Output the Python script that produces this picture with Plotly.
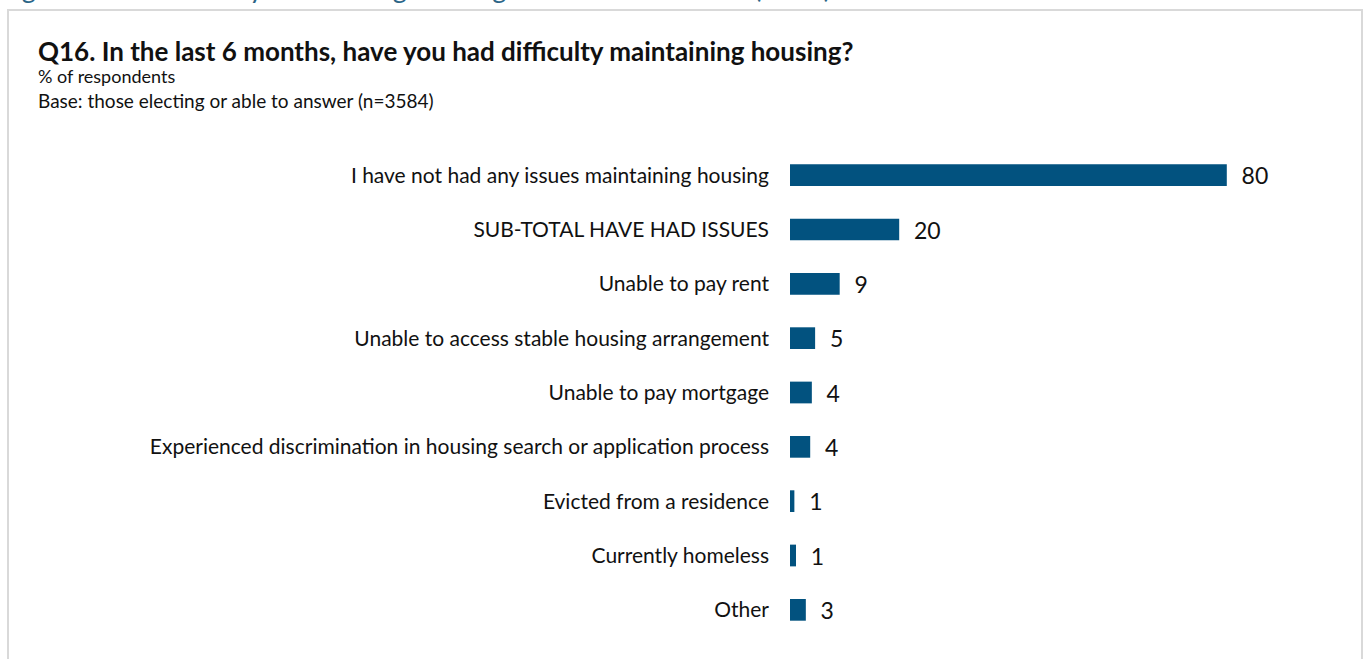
"""Horizontal bar chart: difficulty maintaining housing (Q16)."""

import plotly.graph_objects as go

# ---------------------------------------------------------------------------
# Data
# ---------------------------------------------------------------------------
categories = [
    "I have not had any issues maintaining housing",
    "SUB-TOTAL HAVE HAD ISSUES",
    "Unable to pay rent",
    "Unable to access stable housing arrangement",
    "Unable to pay mortgage",
    "Experienced discrimination in housing search or application process",
    "Evicted from a residence",
    "Currently homeless",
    "Other",
]
values = [80.0, 20.0, 9.1, 4.6, 4.0, 3.7, 0.8, 1.1, 2.9]
value_labels = ["80", "20", "9", "5", "4", "4", "1", "1", "3"]

BAR_COLOR = "#02527f"
CAPTION_COLOR = "#2b6587"
FONT = "Lato, 'Open Sans', sans-serif"

# page geometry (px); the body margin is removed below so the figure
# starts in the top-left corner
W, H = 1363, 659
L, R, T, B = 790, 63, 148, 22
PW, PH = W - L - R, H - T - B


def px_x(px):
    """screen x (px) -> paper coordinate"""
    return (px - L) / PW


def px_y(py):
    """screen y (px) -> paper coordinate"""
    return (H - B - py) / PH


fig = go.Figure()
fig.add_trace(go.Bar(
    x=values,
    y=categories,
    orientation="h",
    marker=dict(color=BAR_COLOR, line=dict(width=0)),
    text=["  " + t for t in value_labels],
    textposition="outside",
    constraintext="none",
    textfont=dict(size=23, color="#111111", family=FONT),
    cliponaxis=False,
    hoverinfo="skip",
))

fig.update_layout(
    width=W,
    height=H,
    margin=dict(l=L, r=R, t=T, b=B, autoexpand=False),
    paper_bgcolor="white",
    plot_bgcolor="white",
    bargap=0.6,
    showlegend=False,
    font=dict(family=FONT, color="#111111"),
)
fig.update_xaxes(range=[0, PW / 5.46], visible=False, fixedrange=True)
fig.update_yaxes(
    autorange="reversed",
    showgrid=False,
    showline=False,
    zeroline=False,
    ticks="",
    ticklabelstandoff=20,
    tickfont=dict(size=21, color="#111111", family=FONT),
    fixedrange=True,
)

# grey frame round the chart
fig.add_shape(
    type="rect", xref="paper", yref="paper",
    x0=px_x(8), x1=px_x(1362), y0=px_y(680), y1=px_y(10),
    line=dict(color="#d9d9d9", width=2), fillcolor="rgba(0,0,0,0)",
    layer="below",
)

annotations = [
    # caption of the figure, cut by the top edge
    dict(text="Figure 3.6.1: Difficulty maintaining housing in the last 6 months (2023)",
         x=px_x(-2), y=px_y(6), xanchor="left", yanchor="bottom",
         font=dict(size=27, color=CAPTION_COLOR, family=FONT)),
    dict(text="<b>Q16. In the last 6 months, have you had difficulty maintaining housing?</b>",
         x=px_x(36), y=px_y(51), xanchor="left", yanchor="middle",
         font=dict(size=26, color="#111111", family=FONT)),
    dict(text="% of respondents",
         x=px_x(36), y=px_y(76), xanchor="left", yanchor="middle",
         font=dict(size=18, color="#111111", family=FONT)),
    dict(text="Base: those electing or able to answer (n=3584)",
         x=px_x(36), y=px_y(101), xanchor="left", yanchor="middle",
         font=dict(size=19, color="#111111", family=FONT)),
]
for a in annotations:
    fig.add_annotation(xref="paper", yref="paper", showarrow=False, **a)

fig.write_html(
    "out.html",
    config={"displayModeBar": False},
    post_script="document.body.style.margin='0';",
)
